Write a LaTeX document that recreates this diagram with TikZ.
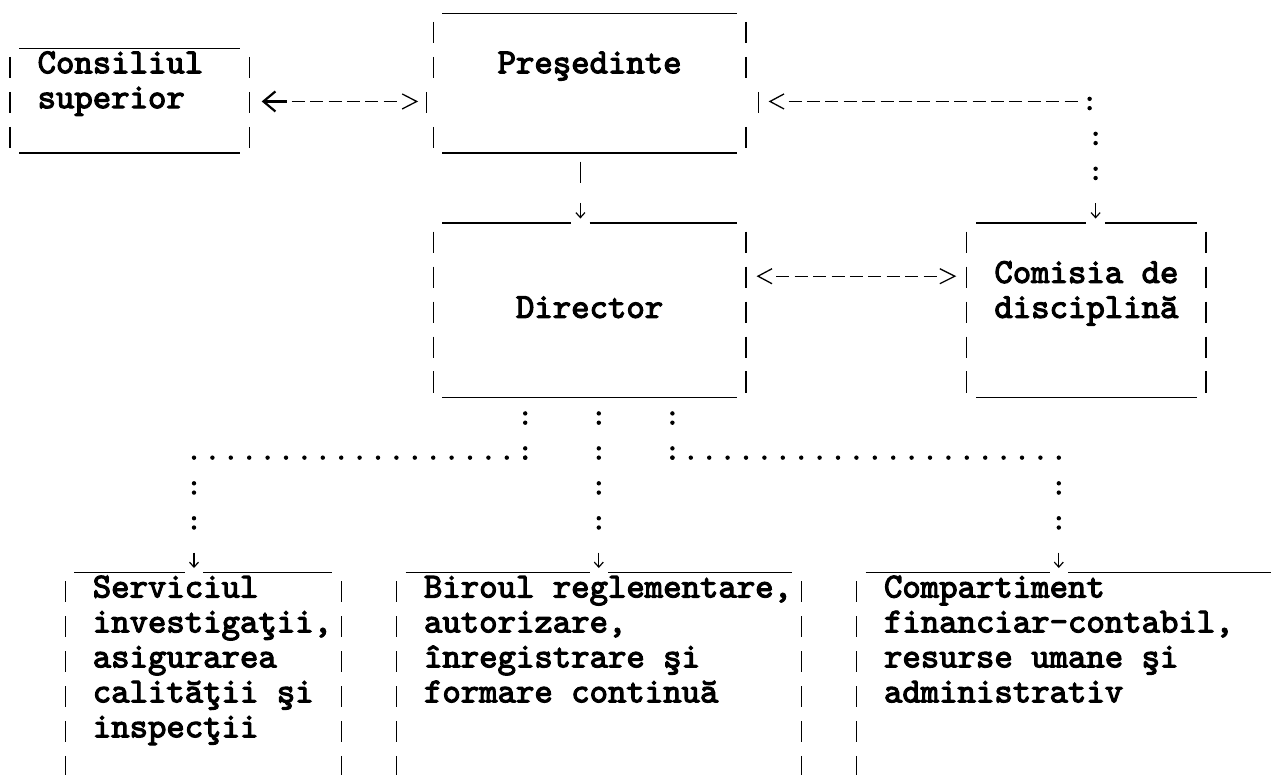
\documentclass[tikz,border=0pt]{standalone}
\usepackage{fontspec}
\newfontfamily\asciimono{lmmono10-regular.otf}[FakeBold=3.2]
\usetikzlibrary{arrows.meta,calc,fit}
\newcommand\sidebars[4]{%
  \foreach \rowi in {#3,...,#4}{%
    \coordinate (ba) at (0,{rowB(\rowi)-16.3});
    \coordinate (bb) at (0,{rowB(\rowi)+5});
    \draw[frame] (#1.#2 |- ba) -- (#1.#2 |- bb);
  }}
\newcommand\topsplit[2]{%
  \draw[frame] ([xshift=9.2pt]#1.north west) -- ($(#2 |- #1.north)+(-9.2,0)$);
  \draw[frame] ($(#2 |- #1.north)+(9.2,0)$) -- ([xshift=-9.2pt]#1.north east);}
\begin{document}
\begin{tikzpicture}[x=1pt,y=-1pt,
  declare function={colL(\c)=0.8+18.4*\c; colC(\c)=10+18.4*\c; rowB(\r)=3.3+34.95*\r; rowU(\r)=13.3+34.95*\r;},
  frame/.style={line width=1.3pt, line cap=butt},
  lbl/.style={inner sep=0pt, outer sep=0pt, anchor=base west, font=\asciimono\bfseries\fontsize{35.05}{34.95}\selectfont},
  boxarea/.style={inner sep=0pt, outer sep=0pt, draw=none},
  dashconn/.style={line width=1.3pt, dash pattern=on 13pt off 5.4pt},
  chev/.style={line width=1.3pt, line join=miter},
  colon/.style={line width=4.4pt, line cap=round, dash pattern=on 0pt off 9.3pt on 0pt off 25.65pt},
  dotrow/.style={line width=4.4pt, line cap=round, dash pattern=on 0pt off 18.4pt},
  downarr/.style={line width=1.2pt, -{Straight Barb[length=5pt,width=9pt]}, shorten >=4.5pt},
  leftarr/.style={line width=2.2pt, -{Straight Barb[length=12pt,width=20pt]}},
]
\useasboundingbox (0,0) rectangle (1271,774);
\fill[white] (0,0) rectangle (1271,774);
\clip (0,0) rectangle (1271,774);

% box areas
\node[boxarea, fit={({colC(0)},{rowU(1)}) ({colC(13)},{rowU(4)})}] (cons) {};
\node[boxarea, fit={({colC(23)},{rowU(0)}) ({colC(40)},{rowU(4)})}] (pres) {};
\node[boxarea, fit={({colC(23)},{rowU(6)}) ({colC(40)},{rowU(11)})}] (dir) {};
\node[boxarea, fit={({colC(52)},{rowU(6)}) ({colC(65)},{rowU(11)})}] (com) {};
\node[boxarea, fit={({colC(3)},{rowU(16)}) ({colC(18)},800)}] (serv) {};
\node[boxarea, fit={({colC(21)},{rowU(16)}) ({colC(43)},800)}] (bir) {};
\node[boxarea, fit={({colC(46)},{rowU(16)}) (1300,800)}] (comp) {};

% column and level coordinates
\coordinate (a10) at ({colC(10)},0);
\coordinate (a28) at ({colC(28)},0);
\coordinate (a31) at ({colC(31)},0);
\coordinate (a32) at ({colC(32)},0);
\coordinate (a36) at ({colC(36)},0);
\coordinate (a57) at ({colC(57)},0);
\coordinate (a59) at ({colC(59)},0);
\coordinate (lv3) at (0,{rowB(3)-6.7});
\coordinate (lv8) at (0,{rowB(8)-6.7});

% labels
\node[lbl] (consT1) at ({colL(2)},{rowB(2)}) {Consiliul};
\node[lbl] (consT2) at ({colL(2)},{rowB(3)}) {superior};
\node[lbl] (presT) at ({colL(27)},{rowB(2)}) {Preşedinte};
\node[lbl] (dirT) at ({colL(28)},{rowB(9)}) {Director};
\node[lbl] (comT1) at ({colL(54)},{rowB(8)}) {Comisia de};
\node[lbl] (comT2) at ({colL(54)},{rowB(9)}) {disciplină};
\node[lbl] (servT1) at ({colL(5)},{rowB(17)}) {Serviciul};
\node[lbl] (servT2) at ({colL(5)},{rowB(18)}) {investigaţii,};
\node[lbl] (servT3) at ({colL(5)},{rowB(19)}) {asigurarea};
\node[lbl] (servT4) at ({colL(5)},{rowB(20)}) {calităţii şi};
\node[lbl] (servT5) at ({colL(5)},{rowB(21)}) {inspecţii};
\node[lbl] (birT1) at ({colL(23)},{rowB(17)}) {Biroul reglementare,};
\node[lbl] (birT2) at ({colL(23)},{rowB(18)}) {autorizare,};
\node[lbl] (birT3) at ({colL(23)},{rowB(19)}) {înregistrare şi};
\node[lbl] (birT4) at ({colL(23)},{rowB(20)}) {formare continuă};
\node[lbl] (compT1) at ({colL(48)},{rowB(17)}) {Compartiment};
\node[lbl] (compT2) at ({colL(48)},{rowB(18)}) {financiar-contabil,};
\node[lbl] (compT3) at ({colL(48)},{rowB(19)}) {resurse umane şi};
\node[lbl] (compT4) at ({colL(48)},{rowB(20)}) {administrativ};

% frames: Consiliul superior
\draw[frame] ([xshift=9.2pt]cons.north west) -- ([xshift=-9.2pt]cons.north east);
\draw[frame] ([xshift=9.2pt]cons.south west) -- ([xshift=-9.2pt]cons.south east);
\sidebars{cons}{west}{2}{4}
\sidebars{cons}{east}{2}{4}
% Presedinte
\draw[frame] ([xshift=9.2pt]pres.north west) -- ([xshift=-9.2pt]pres.north east);
\draw[frame] ([xshift=9.2pt]pres.south west) -- ([xshift=-9.2pt]pres.south east);
\sidebars{pres}{west}{1}{2}
\sidebars{pres}{east}{1}{2}
\sidebars{pres}{west}{4}{4}
\sidebars{pres}{east}{4}{4}
\coordinate (ba) at (0,{rowB(3)-16.3});
\coordinate (bb) at (0,{rowB(3)+5});
\draw[frame] ($(pres.west |- ba)+(-6.5,0)$) -- ($(pres.west |- bb)+(-6.5,0)$);
\draw[frame] ($(pres.east |- ba)+(12.3,0)$) -- ($(pres.east |- bb)+(12.3,0)$);
% Director
\topsplit{dir}{a31}
\draw[frame] ([xshift=9.2pt]dir.south west) -- ([xshift=-9.2pt]dir.south east);
\sidebars{dir}{west}{7}{11}
\sidebars{dir}{east}{7}{11}
% Comisia
\topsplit{com}{a59}
\draw[frame] ([xshift=9.2pt]com.south west) -- ([xshift=-9.2pt]com.south east);
\sidebars{com}{west}{7}{11}
\sidebars{com}{east}{7}{11}
% lower boxes
\topsplit{serv}{a10}
\sidebars{serv}{west}{17}{22}
\sidebars{serv}{east}{17}{22}
\topsplit{bir}{a32}
\sidebars{bir}{west}{17}{22}
\sidebars{bir}{east}{17}{22}
\topsplit{comp}{a57}
\sidebars{comp}{west}{17}{22}

% connector: Consiliul <-> Presedinte
\draw[leftarr] ($(cons.east |- lv3)+(37.5,0)$) -- ($(cons.east |- lv3)+(12.5,0)$);
\draw[dashconn] ($(cons.east |- lv3)+(42.5,0)$) -- ($(pres.west |- lv3)+(-36.5,0)$);
\draw[chev] ($(pres.west |- lv3)+(-31,-7.5)$) -- ($(pres.west |- lv3)+(-16.5,0)$) -- ($(pres.west |- lv3)+(-31,7.5)$);

% connector: Presedinte <-> Comisia
\draw[chev] ($(pres.east |- lv3)+(38,-7.5)$) -- ($(pres.east |- lv3)+(24,0)$) -- ($(pres.east |- lv3)+(38,7.5)$);
\draw[dashconn] ($(pres.east |- lv3)+(42.5,0)$) -- ($(a59 |- lv3)+(-18.1,0)$);
\draw[colon] ({colC(59)-6},{rowB(3)-9.3}) -- ({colC(59)-6},{rowB(3)+0.5});
\draw[colon] ({colC(59)},{rowB(4)-9.3}) -- ({colC(59)},{rowB(5)+0.5});
\draw[downarr] ($(a59 |- com.north)+(0,-20)$) -- (a59 |- com.north);

% connector: Presedinte -> Director
\draw[line width=1.2pt, dash pattern=on 21.3pt off 19.9pt on 60pt, -{Straight Barb[length=5pt,width=9pt]}, shorten >=4.5pt]
  ($(a31 |- pres.south)+(0,8.6)$) -- (a31 |- dir.north);

% connector: Director <-> Comisia
\draw[chev] ($(dir.east |- lv8)+(26,-7.5)$) -- ($(dir.east |- lv8)+(12,0)$) -- ($(dir.east |- lv8)+(26,7.5)$);
\draw[dashconn] ($(dir.east |- lv8)+(30.3,0)$) -- ($(com.west |- lv8)+(-30.3,0)$);
\draw[chev] ($(com.west |- lv8)+(-27,-7.5)$) -- ($(com.west |- lv8)+(-12,0)$) -- ($(com.west |- lv8)+(-27,7.5)$);

% connector: Director -> Serviciul
\draw[colon] ($(a28 |- dir.south)+(0,15.65)$) -- ({colC(28)},{rowB(13)+0.5});
\draw[dotrow] ({colC(28)},{rowB(13)}) -- ({colC(10)-0.5},{rowB(13)});
\draw[colon] ({colC(10)},{rowB(14)-9.3}) -- ({colC(10)},{rowB(15)+0.5});
\draw[downarr] ($(a10 |- serv.north)+(0,-20)$) -- (a10 |- serv.north);

% connector: Director -> Biroul
\draw[colon] ($(a32 |- dir.south)+(0,15.65)$) -- ({colC(32)},{rowB(15)+0.5});
\draw[downarr] ($(a32 |- bir.north)+(0,-20)$) -- (a32 |- bir.north);

% connector: Director -> Compartiment
\draw[colon] ($(a36 |- dir.south)+(0,15.65)$) -- ({colC(36)},{rowB(13)+0.5});
\draw[dotrow] ({colC(36)},{rowB(13)}) -- ({colC(57)+0.5},{rowB(13)});
\draw[colon] ({colC(57)},{rowB(14)-9.3}) -- ({colC(57)},{rowB(15)+0.5});
\draw[downarr] ($(a57 |- comp.north)+(0,-20)$) -- (a57 |- comp.north);
\end{tikzpicture}
\end{document}
